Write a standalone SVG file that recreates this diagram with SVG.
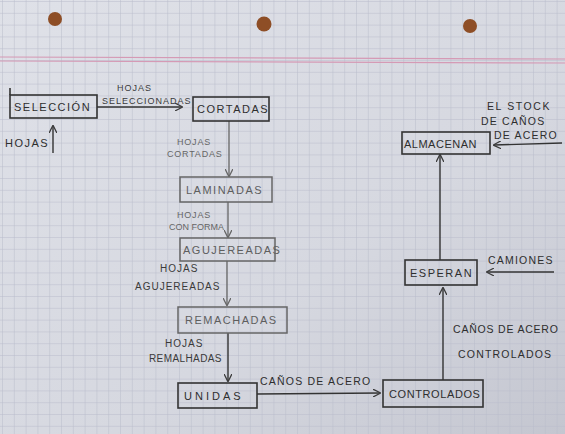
<svg xmlns="http://www.w3.org/2000/svg" width="565" height="434" viewBox="0 0 565 434">
<defs>
<pattern id="grid" width="11.8" height="11.8" patternUnits="userSpaceOnUse" x="3" y="2">
<path d="M11.8 0V11.8M0 11.8H11.8" fill="none" stroke="#b9bccb" stroke-width="1"/>
</pattern>
<linearGradient id="shade" x1="0" y1="0" x2="1" y2="1">
<stop offset="0" stop-color="#dfe1e8"/>
<stop offset="0.6" stop-color="#d6d8e0"/>
<stop offset="1" stop-color="#c4c6d0"/>
</linearGradient>
<marker id="ah" viewBox="0 0 10 10" refX="9" refY="5" markerWidth="8" markerHeight="8" markerUnits="userSpaceOnUse" orient="auto">
<path d="M0 0L10 5L0 10" fill="none" stroke="#3a3a3a" stroke-width="1.6"/>
</marker>
<marker id="ahl" viewBox="0 0 10 10" refX="9" refY="5" markerWidth="8" markerHeight="8" markerUnits="userSpaceOnUse" orient="auto">
<path d="M0 0L10 5L0 10" fill="none" stroke="#666" stroke-width="1.6"/>
</marker>
</defs>
<style>
.box{fill:none;stroke:#333;stroke-width:1.6}
.boxl{fill:none;stroke:#666;stroke-width:1.5}
.lbl{font-family:"Liberation Sans",Arial,sans-serif;font-size:11px;fill:#2e2e2e;letter-spacing:1.5px}
.lbll{font-family:"Liberation Sans",Arial,sans-serif;font-size:11px;fill:#5e5e5e;letter-spacing:1.5px}
.sm{font-family:"Liberation Sans",Arial,sans-serif;font-size:9px;fill:#3a3a3a;letter-spacing:1px}
.smr{font-family:"Liberation Sans",Arial,sans-serif;font-size:10.5px;fill:#2e2e2e;letter-spacing:1.2px}
.sml{font-family:"Liberation Sans",Arial,sans-serif;font-size:9px;fill:#666;letter-spacing:0.8px}
.ln{fill:none;stroke:#333;stroke-width:1.4}
.lnl{fill:none;stroke:#666;stroke-width:1.3}
</style>
<rect width="565" height="434" fill="url(#shade)"/>
<rect width="565" height="434" fill="url(#grid)"/>
<line x1="0" y1="57" x2="565" y2="59" stroke="#d59ab5" stroke-width="1.2"/>
<line x1="0" y1="61" x2="565" y2="63" stroke="#d59ab5" stroke-width="1.2"/>
<circle cx="55" cy="19" r="7" fill="#8e4e26"/>
<circle cx="264" cy="24" r="7.5" fill="#8e4e26"/>
<circle cx="470" cy="26" r="7" fill="#8e4e26"/>

<g id="connectors">
<line class="ln" x1="97" y1="107" x2="182" y2="107" marker-end="url(#ah)"/>
<line class="ln" x1="53" y1="153" x2="53" y2="126" marker-end="url(#ah)"/>
<line class="lnl" x1="229" y1="121" x2="229" y2="176" marker-end="url(#ahl)"/>
<line class="lnl" x1="228" y1="202" x2="228" y2="237" marker-end="url(#ahl)"/>
<line class="lnl" x1="227" y1="261" x2="227" y2="305" marker-end="url(#ahl)"/>
<line class="ln" x1="228" y1="333" x2="228" y2="381" marker-end="url(#ah)"/>
<line class="ln" x1="257" y1="394" x2="380" y2="393" marker-end="url(#ah)"/>
<line class="ln" x1="443" y1="380" x2="443" y2="288" marker-end="url(#ah)"/>
<line class="ln" x1="440" y1="260" x2="440" y2="155" marker-end="url(#ah)"/>
<line class="ln" x1="554" y1="272" x2="487" y2="272" marker-end="url(#ah)"/>
<line class="ln" x1="562" y1="143" x2="494" y2="145" marker-end="url(#ah)"/>
</g>

<g id="seleccion">
<line class="box" x1="10" y1="88" x2="10" y2="95"/>
<rect class="box" x="10" y="95" width="87" height="23"/>
<text class="lbl" x="14" y="111">SELECCIÓN</text>
</g>
<g id="cortadas">
<rect class="box" x="193" y="97" width="76" height="24"/>
<text class="lbl" x="197" y="113">CORTADAS</text>
</g>
<g id="laminadas">
<rect class="boxl" x="180" y="177" width="92" height="25"/>
<text class="lbll" x="186" y="194">LAMINADAS</text>
</g>
<g id="agujereadas">
<rect class="boxl" x="180" y="238" width="95" height="23"/>
<text class="lbll" x="183" y="254">AGUJEREADAS</text>
</g>
<g id="remachadas">
<rect class="boxl" x="178" y="307" width="109" height="26"/>
<text class="lbll" x="185" y="324">REMACHADAS</text>
</g>
<g id="unidas">
<rect class="box" x="178" y="383" width="79" height="25"/>
<text class="lbl" x="184" y="400" style="letter-spacing:3px">UNIDAS</text>
</g>
<g id="controlados">
<rect class="box" x="383" y="380" width="100" height="27"/>
<text class="lbl" x="389" y="398" style="letter-spacing:0.6px">CONTROLADOS</text>
</g>
<g id="esperan">
<rect class="box" x="405" y="260" width="72" height="25"/>
<text class="lbl" x="410" y="277">ESPERAN</text>
</g>
<g id="almacenan">
<rect class="box" x="402" y="132" width="88" height="22"/>
<text class="lbl" x="404" y="148" style="letter-spacing:0.5px">ALMACENAN</text>
</g>

<g id="labels">
<text class="sm" x="117" y="91">HOJAS</text>
<text class="sm" x="102" y="104">SELECCIONADAS</text>
<text class="lbl" x="5" y="147">HOJAS</text>
<text class="sml" x="177" y="145">HOJAS</text>
<text class="sml" x="167" y="157">CORTADAS</text>
<text class="sml" x="177" y="218">HOJAS</text>
<text class="sml" x="169" y="230" style="letter-spacing:0px">CON FORMA</text>
<text class="sm" x="160" y="272" style="font-size:10px">HOJAS</text>
<text class="sm" x="135" y="290" style="font-size:10px">AGUJEREADAS</text>
<text class="sm" x="165" y="347" style="font-size:10px">HOJAS</text>
<text class="sm" x="149" y="362" style="font-size:10px;letter-spacing:0.4px">REMALHADAS</text>
<text class="smr" x="260" y="385">CAÑOS DE ACERO</text>
<text class="smr" x="453" y="333" style="letter-spacing:0.8px">CAÑOS DE ACERO</text>
<text class="smr" x="458" y="358">CONTROLADOS</text>
<text class="smr" x="488" y="264">CAMIONES</text>
<text class="smr" x="487" y="110" style="letter-spacing:1.6px">EL STOCK</text>
<text class="smr" x="481" y="125">DE CAÑOS</text>
<text class="smr" x="494" y="139">DE ACERO</text>
</g>
</svg>
